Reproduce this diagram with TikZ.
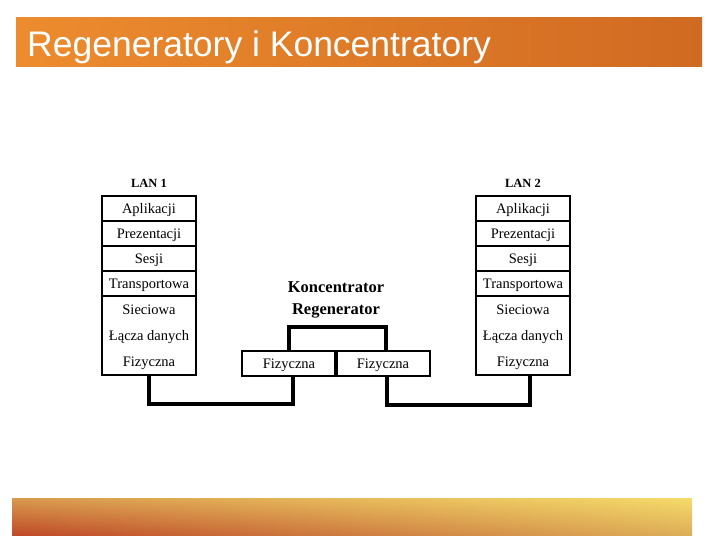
\documentclass[tikz,border=0pt]{standalone}
\usepackage{fontspec}
\setmainfont{Liberation Serif}
\newfontfamily\titlefont{Liberation Sans}
\usetikzlibrary{positioning,shadings}

\definecolor{barlight}{HTML}{EC8C2E}
\definecolor{bardark}{HTML}{D06A22}
\definecolor{footred}{HTML}{BF4A28}
\definecolor{foottan}{HTML}{D89A4E}
\definecolor{footyel}{HTML}{F5DB6A}
\definecolor{footsand}{HTML}{DDAE58}

\begin{document}
\begin{tikzpicture}[
  x=1pt, y=-1pt,
  layer/.style={draw, line width=1.2pt, outer sep=0pt, inner sep=0pt, minimum width=94pt, minimum height=25pt, text height=10pt, text depth=0pt, font=\fontsize{14.5}{16}\selectfont},
  netrow/.style={outer sep=0pt, inner sep=0pt, minimum width=94pt, minimum height=26.33pt, text height=10pt, text depth=0pt, font=\fontsize{14.5}{16}\selectfont},
  lan/.style={inner sep=0pt, font=\bfseries\fontsize{12.5}{14}\selectfont},
  hub/.style={inner sep=0pt, font=\bfseries\fontsize{16.5}{18}\selectfont},
  link/.style={line width=4pt}
]
  \useasboundingbox (0,0) rectangle (720,540);
  % title and footer bars
  \shade[left color=barlight, right color=bardark] (16,18) rectangle (702,67);
  \node[anchor=base west, inner sep=0pt, text=white, font=\titlefont\fontsize{35.5}{40}\selectfont] (title) at (27,57) {Regeneratory i Koncentratory};
  \shade[upper left=foottan, upper right=footyel, lower left=footred, lower right=footsand] (12,498) rectangle (692,535);

  % LAN 1
  \node[lan] (lan1) at (149,183) {LAN 1};
  \node[layer] (a1) at (149,208.5) {Aplikacji};
  \node[layer, below=0pt of a1] (p1) {Prezentacji};
  \node[layer, below=0pt of p1] (s1) {Sesji};
  \node[layer, below=0pt of s1] (t1) {Transportowa};
  \node[netrow, below=0pt of t1] (n1) {Sieciowa};
  \node[netrow, below=0pt of n1] (d1) {Łącza danych};
  \node[netrow, below=0pt of d1] (f1) {Fizyczna};
  \draw[line width=1.2pt] (n1.north west) rectangle (f1.south east);
  \draw[line width=2pt] (s1.south west) -- (s1.south east);

  % LAN 2
  \node[lan] (lan2) at (523,183) {LAN 2};
  \node[layer] (a2) at (523,208.5) {Aplikacji};
  \node[layer, below=0pt of a2] (p2) {Prezentacji};
  \node[layer, below=0pt of p2] (s2) {Sesji};
  \node[layer, below=0pt of s2] (t2) {Transportowa};
  \node[netrow, below=0pt of t2] (n2) {Sieciowa};
  \node[netrow, below=0pt of n2] (d2) {Łącza danych};
  \node[netrow, below=0pt of d2] (f2) {Fizyczna};
  \draw[line width=1.2pt] (n2.north west) rectangle (f2.south east);
  \draw[line width=2pt] (s2.south west) -- (s2.south east);

  % hub
  \node[hub] (konc) at (336,287) {Koncentrator};
  \node[hub] (regen) at (336,311) {Regenerator};
  \node[layer] (hl) at (289,363.5) {Fizyczna};
  \node[layer, right=0pt of hl] (hr) {Fizyczna};
  \draw[link] (hl.north east) -- (hl.south east);
  \draw[link] (hl.north) -- ++(0,-24) -| ([xshift=3pt]hr.north);

  % cables
  \draw[link] (f1.south) -- ++(0,29) -| ([xshift=4pt]hl.south);
  \draw[link] ([xshift=4pt]hr.south) -- ++(0,29) -| ([xshift=7pt]f2.south);
\end{tikzpicture}
\end{document}
